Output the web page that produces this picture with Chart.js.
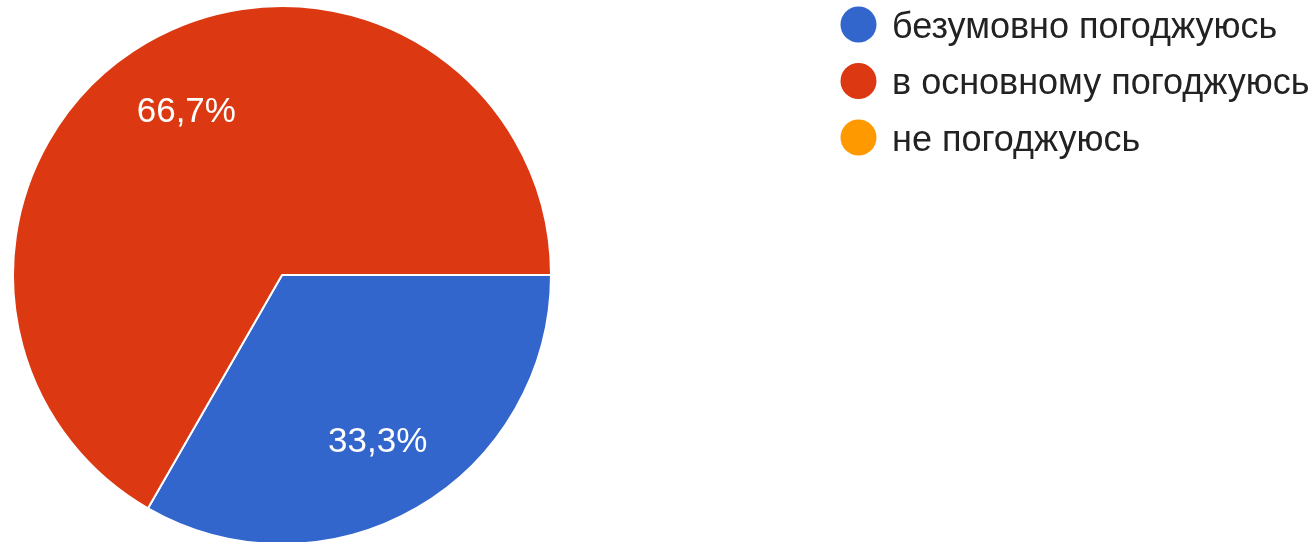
<!DOCTYPE html>
<html><head><meta charset="utf-8">
<script src="https://cdn.jsdelivr.net/npm/chart.js@4.4.1/dist/chart.umd.min.js"></script>
<style>html,body{margin:0;padding:0;background:#fff;overflow:hidden}#wrap{position:relative;width:1316px;height:542px;overflow:hidden}</style>
</head><body><div id="wrap"><canvas id="c" width="1316" height="548"></canvas></div>
<script>
const categories = ['безумовно погоджуюсь', 'в основному погоджуюсь', 'не погоджуюсь'];
const percentages = [33.3, 66.7, 0];
const colors = ['#3366CC', '#DC3912', '#FF9900'];

const FONT = '"Liberation Sans", Arial, sans-serif';

const sliceLabels = {
  id: 'sliceLabels',
  afterDatasetsDraw(chart) {
    const ctx = chart.ctx;
    const meta = chart.getDatasetMeta(0);
    const data = chart.data.datasets[0].data;
    const total = data.reduce((a, b) => a + b, 0);
    ctx.save();
    ctx.fillStyle = '#ffffff';
    ctx.font = '35px ' + FONT;
    ctx.textAlign = 'center';
    ctx.textBaseline = 'middle';
    meta.data.forEach((arc, i) => {
      const v = data[i];
      if (!v) return;
      const p = arc.getProps(['x', 'y', 'startAngle', 'endAngle', 'outerRadius'], true);
      const mid = (p.startAngle + p.endAngle) / 2;
      const r = p.outerRadius * 0.71;
      const txt = (v / total * 100).toFixed(1).replace('.', ',') + '%';
      ctx.fillText(txt, p.x + Math.cos(mid) * r, p.y + Math.sin(mid) * r + 2.5);
    });
    ctx.restore();
  }
};

const sideLegend = {
  id: 'sideLegend',
  afterDraw(chart) {
    const ctx = chart.ctx;
    const labels = chart.data.labels;
    const bg = chart.data.datasets[0].backgroundColor;
    ctx.save();
    ctx.font = '36px ' + FONT;
    ctx.textAlign = 'left';
    ctx.textBaseline = 'alphabetic';
    labels.forEach((lab, i) => {
      const cy = 24.5 + i * 56.5;
      ctx.fillStyle = bg[i];
      ctx.beginPath();
      ctx.arc(858.5, cy, 18, 0, Math.PI * 2);
      ctx.fill();
      ctx.fillStyle = '#222222';
      ctx.fillText(lab, 892, cy + 13);
    });
    ctx.restore();
  }
};

new Chart(document.getElementById('c'), {
  type: 'pie',
  data: {
    labels: categories,
    datasets: [{
      data: percentages,
      backgroundColor: colors,
      borderColor: '#ffffff',
      borderWidth: 2
    }]
  },
  options: {
    responsive: false,
    animation: false,
    rotation: 90,
    layout: { padding: { left: 12, right: 764, top: 5, bottom: 3 } },
    plugins: {
      legend: { display: false },
      tooltip: { enabled: false }
    }
  },
  plugins: [sliceLabels, sideLegend]
});
</script>
</body></html>
